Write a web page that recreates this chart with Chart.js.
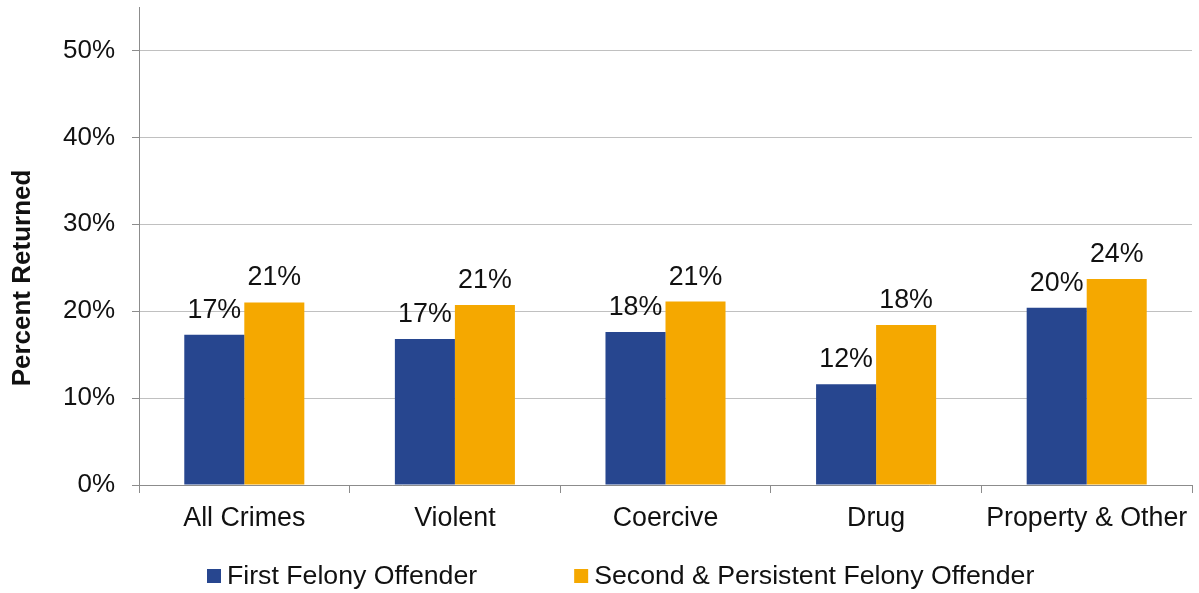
<!DOCTYPE html>
<html><head><meta charset="utf-8">
<script src="https://cdn.jsdelivr.net/npm/chart.js@4.4.0/dist/chart.umd.min.js"></script>
<style>html,body{margin:0;padding:0;background:#fff}</style>
</head><body>
<canvas id="c" width="1199" height="593"></canvas>
<script>
const categories = ['All Crimes', 'Violent', 'Coercive', 'Drug', 'Property & Other'];
const seriesNames = ['First Felony Offender', 'Second & Persistent Felony Offender'];
const firstFelony = [17.3, 16.8, 17.6, 11.6, 20.4];
const secondFelony = [21.0, 20.7, 21.1, 18.4, 23.7];
const yTicks = [0, 10, 20, 30, 40, 50];
const yMax = 55;
const yTitle = 'Percent Returned';

const FONT = "'Liberation Sans', Arial, sans-serif";
const TEXT = '#111111';
const AXIS = '#8c8c8c';

const barLabels = {
  id: 'barLabels',
  afterDatasetsDraw(chart) {
    const ctx = chart.ctx;
    ctx.save();
    ctx.font = '26.8px ' + FONT;
    ctx.fillStyle = TEXT;
    ctx.textAlign = 'center';
    ctx.textBaseline = 'alphabetic';
    chart.data.datasets.forEach((ds, i) => {
      chart.getDatasetMeta(i).data.forEach((bar, j) => {
        ctx.fillText(Math.round(ds.data[j]) + '%', bar.x, bar.y - 17);
      });
    });
    ctx.restore();
  }
};

const yAxisTitle = {
  id: 'yAxisTitle',
  afterDraw(chart) {
    const ctx = chart.ctx;
    ctx.save();
    ctx.font = 'bold 26px ' + FONT;
    ctx.fillStyle = TEXT;
    ctx.textAlign = 'center';
    ctx.textBaseline = 'middle';
    ctx.translate(23, 278);
    ctx.rotate(-Math.PI / 2);
    ctx.fillText(yTitle, 0, 0);
    ctx.restore();
  }
};

const customLegend = {
  id: 'customLegend',
  afterDraw(chart) {
    const ctx = chart.ctx;
    ctx.save();
    ctx.font = '26.7px ' + FONT;
    ctx.textBaseline = 'middle';
    ctx.textAlign = 'left';
    const box = 14, gap = 6, itemGap = 97;
    let x = 207;
    const y = 576;
    chart.data.datasets.forEach(ds => {
      const w = ctx.measureText(ds.label).width;
      ctx.fillStyle = ds.backgroundColor;
      ctx.fillRect(x, y - 7, box, box);
      ctx.fillStyle = TEXT;
      ctx.fillText(ds.label, x + box + gap, y + 1);
      x += box + gap + w + itemGap;
    });
    ctx.restore();
  }
};

new Chart(document.getElementById('c'), {
  type: 'bar',
  data: {
    labels: categories,
    datasets: [
      { label: seriesNames[0], data: firstFelony, backgroundColor: '#27468f' },
      { label: seriesNames[1], data: secondFelony, backgroundColor: '#f5a800' }
    ]
  },
  options: {
    responsive: false,
    devicePixelRatio: 1,
    animation: false,
    categoryPercentage: 0.57,
    barPercentage: 1.0,
    layout: { padding: { left: 63, right: 7, top: 7, bottom: 57 } },
    plugins: { legend: { display: false }, tooltip: { enabled: false } },
    scales: {
      y: {
        min: 0,
        max: yMax,
        afterBuildTicks(scale) { scale.ticks = yTicks.map(v => ({ value: v })); },
        afterFit(scale) { scale.width = 76; scale.paddingTop = 0; scale.paddingBottom = 0; },
        ticks: { callback: v => v + '%', font: { family: FONT, size: 26 }, color: TEXT, padding: 17 },
        grid: { color: '#c0c0c0', tickColor: AXIS, tickLength: 7, lineWidth: 1 },
        border: { color: AXIS, width: 1 }
      },
      x: {
        afterFit(scale) { scale.height = 51; scale.paddingLeft = 0; scale.paddingRight = 0; },
        ticks: { font: { family: FONT, size: 26.8 }, color: TEXT, padding: 10 },
        grid: { display: true, drawOnChartArea: false, offset: true, tickColor: AXIS, tickLength: 8 },
        border: { color: AXIS, width: 1 }
      }
    }
  },
  plugins: [barLabels, yAxisTitle, customLegend]
});
</script>
</body></html>
